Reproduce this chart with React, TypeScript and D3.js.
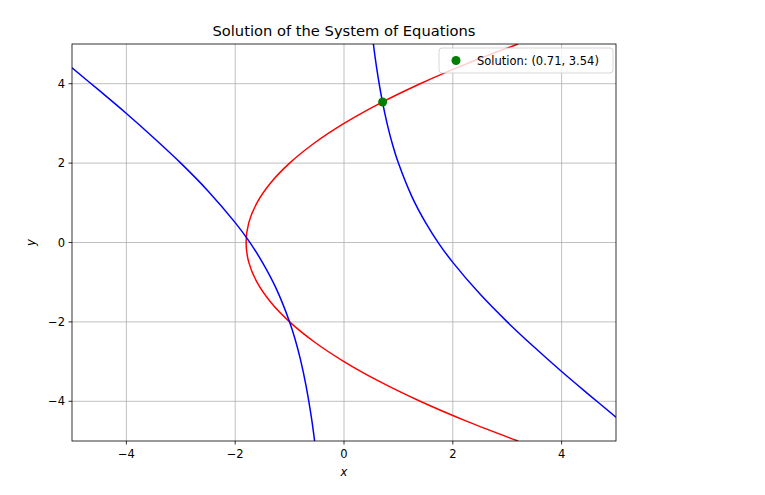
import * as React from "react";
import * as d3 from "d3";

// red curve: points (x, y), y from -5 to 5
const redY = [-5, -4.5, -4, -3.5, -3, -2.5, -2, -1.5, -1, -0.5, 0, 0.5, 1, 1.5, 2, 2.5, 3, 3.5, 4, 4.5, 5];
const redX = [3.2, 2.25, 1.4, 0.65, 0, -0.55, -1.0, -1.35, -1.6, -1.75, -1.8, -1.75, -1.6, -1.35, -1.0, -0.55, 0, 0.65, 1.4, 2.25, 3.2];

// blue curve, right branch
const blueRightX = [0.54, 0.6, 0.7, 0.8, 0.9, 1.0, 1.25, 1.5, 1.75, 2.0, 2.5, 3.0, 3.5, 4.0, 4.5, 5.0];
const blueRightY = [5.0, 4.4, 3.59, 2.95, 2.43, 2.0, 1.15, 0.5, -0.04, -0.5, -1.3, -2.0, -2.64, -3.25, -3.83, -4.4];
// blue curve, left branch
const blueLeftX = [-5.0, -4.5, -4.0, -3.5, -3.0, -2.5, -2.0, -1.75, -1.5, -1.25, -1.0, -0.9, -0.8, -0.7, -0.6, -0.54];
const blueLeftY = [4.4, 3.83, 3.25, 2.64, 2.0, 1.3, 0.5, 0.04, -0.5, -1.15, -2.0, -2.43, -2.95, -3.59, -4.4, -5.0];

const solution = { x: 0.71, y: 3.54 };
const legendLabel = "Solution: (0.71, 3.54)";
const titleText = "Solution of the System of Equations";
const xTicks = [-4, -2, 0, 2, 4];
const yTicks = [-4, -2, 0, 2, 4];

const W = 765;
const H = 495;
const left = 72;
const right = 616;
const top = 44;
const bottom = 441;
const font = "DejaVu Sans, sans-serif";

const fmt = (v: number) => (v < 0 ? `\u2212${Math.abs(v)}` : `${v}`);

export default function App() {
  const x = d3.scaleLinear().domain([-5, 5]).range([left, right]);
  const y = d3.scaleLinear().domain([-5, 5]).range([bottom, top]);

  const line = d3
    .line<[number, number]>()
    .x((d) => x(d[0]))
    .y((d) => y(d[1]))
    .curve(d3.curveCatmullRom.alpha(0.5));

  const red = redX.map((v, i) => [v, redY[i]] as [number, number]);
  const blueR = blueRightX.map((v, i) => [v, blueRightY[i]] as [number, number]);
  const blueL = blueLeftX.map((v, i) => [v, blueLeftY[i]] as [number, number]);

  return (
    <svg width={W} height={H} style={{ position: "absolute", left: 0, top: 0, background: "white" }}>
      <defs>
        <clipPath id="plot">
          <rect x={left} y={top} width={right - left} height={bottom - top} />
        </clipPath>
      </defs>
      {/* grid */}
      {xTicks.map((t) => (
        <line key={"gx" + t} x1={x(t)} x2={x(t)} y1={top} y2={bottom} stroke="#b0b0b0" strokeWidth={0.8} />
      ))}
      {yTicks.map((t) => (
        <line key={"gy" + t} x1={left} x2={right} y1={y(t)} y2={y(t)} stroke="#b0b0b0" strokeWidth={0.8} />
      ))}
      <g clipPath="url(#plot)" fill="none" strokeWidth={1.5}>
        <path d={line(red) || ""} stroke="#ff0000" />
        <path d={line(blueR) || ""} stroke="#0000ff" />
        <path d={line(blueL) || ""} stroke="#0000ff" />
      </g>
      <circle cx={x(solution.x)} cy={y(solution.y)} r={4.5} fill="#008000" />
      {/* spines */}
      <rect x={left} y={top} width={right - left} height={bottom - top} fill="none" stroke="black" strokeWidth={0.8} />
      {/* ticks */}
      {xTicks.map((t) => (
        <g key={"tx" + t}>
          <line x1={x(t)} x2={x(t)} y1={bottom} y2={bottom + 3.5} stroke="black" strokeWidth={0.8} />
          <text x={x(t)} y={bottom + 17} textAnchor="middle" fontFamily={font} fontSize={11.5}>
            {fmt(t)}
          </text>
        </g>
      ))}
      {yTicks.map((t) => (
        <g key={"ty" + t}>
          <line x1={left - 3.5} x2={left} y1={y(t)} y2={y(t)} stroke="black" strokeWidth={0.8} />
          <text x={left - 7} y={y(t) + 4} textAnchor="end" fontFamily={font} fontSize={11.5}>
            {fmt(t)}
          </text>
        </g>
      ))}
      <text x={(left + right) / 2} y={476} textAnchor="middle" fontFamily={font} fontSize={11.5} fontStyle="italic">
        x
      </text>
      <text
        transform={`translate(35,${(top + bottom) / 2}) rotate(-90)`}
        textAnchor="middle"
        fontFamily={font}
        fontSize={11.5}
        fontStyle="italic"
      >
        y
      </text>
      <text x={(left + right) / 2} y={36} textAnchor="middle" fontFamily={font} fontSize={14.7}>
        {titleText}
      </text>
      {/* legend */}
      <g>
        <rect x={439} y={48} width={174} height={25} rx={3} fill="white" fillOpacity={0.8} stroke="#cccccc" strokeWidth={0.8} />
        <circle cx={456} cy={60.5} r={4.5} fill="#008000" />
        <text x={477} y={65} fontFamily={font} fontSize={11.5}>
          {legendLabel}
        </text>
      </g>
    </svg>
  );
}
